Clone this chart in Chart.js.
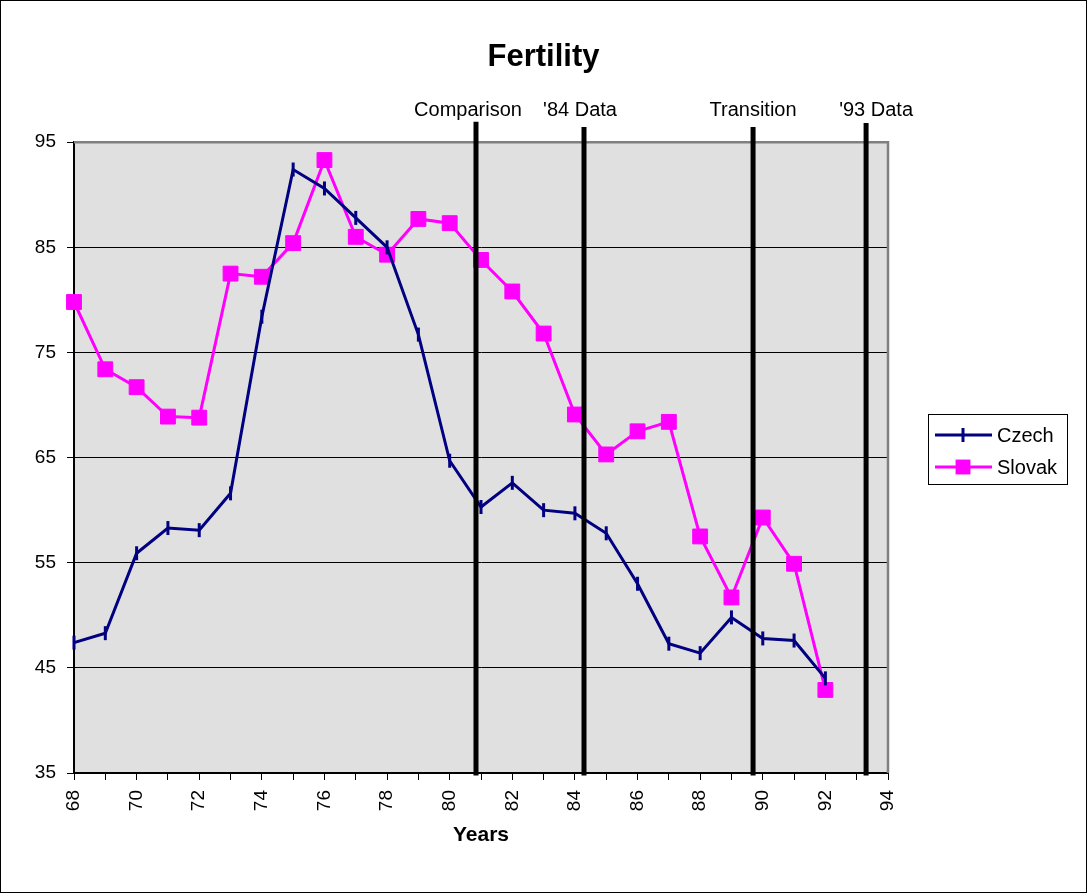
<!DOCTYPE html>
<html>
<head>
<meta charset="utf-8">
<title>Fertility</title>
<script src="https://cdn.jsdelivr.net/npm/chart.js@4/dist/chart.umd.min.js"></script>
<style>
  body { margin: 0; background: #fff; }
</style>
</head>
<body>
<canvas id="grafico" width="1087" height="893"></canvas>
<script>
// datos
const years = [68, 69, 70, 71, 72, 73, 74, 75, 76, 77, 78, 79, 80, 81, 82, 83, 84, 85, 86, 87, 88, 89, 90, 91, 92];
const czech = [47.4, 48.3, 55.9, 58.3, 58.1, 61.6, 78.4, 92.4, 90.6, 87.8, 85.0, 76.7, 64.7, 60.3, 62.6, 60.0, 59.7, 57.8, 53.0, 47.3, 46.4, 49.8, 47.8, 47.6, 44.0];
const slovak = [79.8, 73.4, 71.7, 68.9, 68.8, 82.5, 82.2, 85.4, 93.3, 86.0, 84.3, 87.7, 87.3, 83.8, 80.8, 76.8, 69.1, 65.3, 67.5, 68.4, 57.5, 51.7, 59.3, 54.9, 42.9];

// lineas verticales (años) y sus etiquetas
const markerYears = [80.84, 84.29, 89.69, 93.30];
const markerLabels = ["Comparison", "'84 Data", "Transition", "'93 Data"];
const markerOvershoot = [1.7, 1.2, 1.2, 1.6];
const labelShift = [-8, -4, 0, 10];

const Y_MIN = 35, Y_MAX = 95;
const X_MIN = 68, X_MAX = 94;

const FONT = "Arial, 'Liberation Sans', sans-serif";
Chart.defaults.font.family = FONT;
Chart.defaults.color = '#000';

const verticals = markerYears.map((yr, i) => ({
    label: markerLabels[i],
    data: [{ x: yr, y: Y_MIN }, { x: yr, y: Y_MAX + markerOvershoot[i] }],
    borderColor: '#000',
    borderWidth: 5,
    borderCapStyle: 'square',
    pointRadius: 0,
    clip: false,
    order: 0
}));

const czechSet = {
    label: 'Czech',
    data: years.map((y, i) => ({ x: y, y: czech[i] })),
    borderColor: '#000080',
    borderWidth: 3,
    tension: 0,
    pointStyle: 'line',
    pointRotation: 90,
    pointRadius: 7,
    pointBorderWidth: 3,
    pointBorderColor: '#000080',
    pointBackgroundColor: '#000080',
    clip: false,
    order: 1
};

const slovakSet = {
    label: 'Slovak',
    data: years.map((y, i) => ({ x: y, y: slovak[i] })),
    borderColor: '#FF00FF',
    borderWidth: 3,
    tension: 0,
    pointStyle: 'rect',
    pointRadius: 10.5,
    pointBorderWidth: 1,
    pointBorderColor: '#FF00FF',
    pointBackgroundColor: '#FF00FF',
    clip: false,
    order: 2
};

const fondo = {
    id: 'fondo',
    beforeDraw(chart) {
        const { ctx, chartArea: a } = chart;
        ctx.save();
        ctx.fillStyle = '#fff';
        ctx.fillRect(0, 0, chart.width, chart.height);
        ctx.fillStyle = '#e0e0e0';
        ctx.fillRect(a.left, a.top, a.right - a.left, a.bottom - a.top);
        ctx.restore();
    },
    beforeDatasetsDraw(chart) {
        const { ctx, chartArea: a } = chart;
        ctx.save();
        ctx.strokeStyle = '#808080';
        ctx.lineWidth = 2.5;
        ctx.beginPath();
        ctx.moveTo(a.left, a.top);
        ctx.lineTo(a.right, a.top);
        ctx.lineTo(a.right, a.bottom);
        ctx.stroke();
        ctx.restore();
    },
    afterDraw(chart) {
        const { ctx } = chart;
        ctx.save();
        ctx.strokeStyle = '#000';
        ctx.lineWidth = 1;
        ctx.strokeRect(0.5, 0.5, chart.width - 1, chart.height - 1);
        ctx.restore();
    }
};

const etiquetas = {
    id: 'etiquetas',
    afterDraw(chart) {
        const { ctx, chartArea: a } = chart;
        const xs = chart.scales.x;
        ctx.save();
        ctx.font = '20px ' + FONT;
        ctx.fillStyle = '#000';
        ctx.textAlign = 'center';
        ctx.textBaseline = 'middle';
        markerYears.forEach((yr, i) => {
            ctx.fillText(markerLabels[i], xs.getPixelForValue(yr) + labelShift[i], a.top - 32);
        });
        ctx.restore();
    }
};

const leyenda = {
    id: 'leyenda',
    afterDraw(chart) {
        const { ctx } = chart;
        const box = { x: 928, y: 414, w: 139, h: 70 };
        ctx.save();
        ctx.fillStyle = '#fff';
        ctx.fillRect(box.x, box.y, box.w, box.h);
        ctx.strokeStyle = '#000';
        ctx.lineWidth = 1;
        ctx.strokeRect(box.x + 0.5, box.y + 0.5, box.w, box.h);
        [czechSet, slovakSet].forEach((ds, i) => {
            const cy = box.y + 21 + i * 32;
            ctx.strokeStyle = ds.borderColor;
            ctx.lineWidth = ds.borderWidth;
            ctx.beginPath();
            ctx.moveTo(box.x + 7, cy);
            ctx.lineTo(box.x + 64, cy);
            ctx.stroke();
            const mx = box.x + 35;
            if (ds.pointStyle === 'rect') {
                const s = ds.pointRadius * Math.SQRT1_2;
                ctx.fillStyle = ds.pointBackgroundColor;
                ctx.fillRect(mx - s, cy - s, 2 * s, 2 * s);
            } else {
                ctx.lineWidth = ds.pointBorderWidth;
                ctx.beginPath();
                ctx.moveTo(mx, cy - ds.pointRadius);
                ctx.lineTo(mx, cy + ds.pointRadius);
                ctx.stroke();
            }
            ctx.fillStyle = '#000';
            ctx.font = '20px ' + FONT;
            ctx.textAlign = 'left';
            ctx.textBaseline = 'middle';
            ctx.fillText(ds.label, box.x + 69, cy + 1);
        });
        ctx.restore();
    }
};

const config = {
    type: 'line',
    data: { datasets: [...verticals, czechSet, slovakSet] },
    options: {
        responsive: false,
        animation: false,
        devicePixelRatio: 1,
        plugins: {
            legend: { display: false },
            tooltip: { enabled: false },
            title: {
                display: true,
                text: 'Fertility',
                font: { size: 31, weight: 'bold' },
                color: '#000',
                padding: { top: 39, bottom: 66 }
            }
        },
        scales: {
            x: {
                type: 'linear',
                min: X_MIN,
                max: X_MAX,
                afterFit: (scale) => { scale.height = 120; },
                grid: { drawOnChartArea: false, color: '#000', tickLength: 7, lineWidth: 1 },
                border: { color: '#000', width: 2 },
                ticks: {
                    stepSize: 1,
                    autoSkip: false,
                    minRotation: 90,
                    maxRotation: 90,
                    padding: 10,
                    font: { size: 19 },
                    callback: (v) => (v % 2 === 0 ? String(v) : '')
                },
                title: {
                    display: true,
                    text: 'Years',
                    font: { size: 21, weight: 'bold' },
                    color: '#000',
                    padding: { top: 4, bottom: 45 }
                }
            },
            y: {
                min: Y_MIN,
                max: Y_MAX,
                afterFit: (scale) => { scale.width = 74; },
                grid: { color: '#000', tickLength: 7, lineWidth: 1 },
                border: { color: '#000', width: 2 },
                ticks: { stepSize: 10, padding: 11, font: { size: 19 } }
            },
            // eje vacio a la derecha: deja el espacio de la leyenda
            derecha: {
                position: 'right',
                min: Y_MIN,
                max: Y_MAX,
                afterFit: (scale) => { scale.width = 199; },
                grid: { display: false },
                border: { display: false },
                ticks: { display: false }
            }
        }
    },
    plugins: [fondo, etiquetas, leyenda]
};

const canvas = document.getElementById('grafico');
const myChart = new Chart(canvas, config);
</script>
</body>
</html>
